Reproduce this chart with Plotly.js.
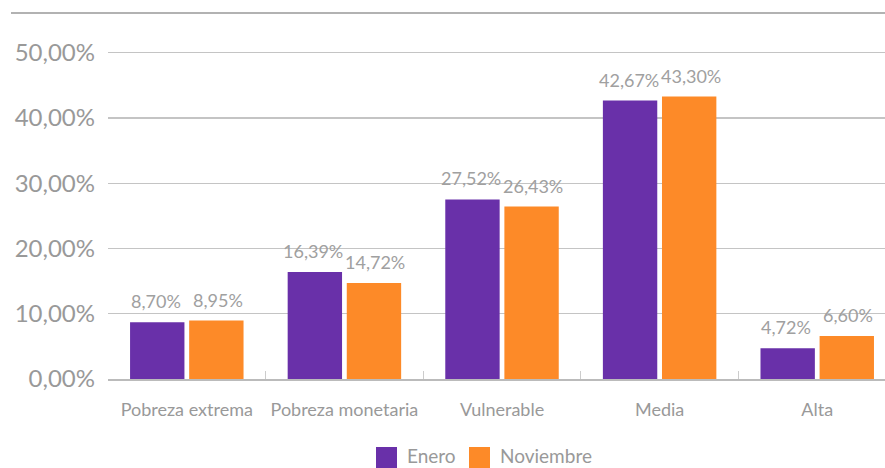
<!DOCTYPE html>
<html><head><meta charset="utf-8">
<script src="https://cdn.plot.ly/plotly-3.0.1.min.js"></script>
<style>body{margin:0;background:#fff}#c{width:885px;height:468px}</style>
</head><body><div id="c"></div>
<script>
const categories = ["Pobreza extrema","Pobreza monetaria","Vulnerable","Media","Alta"];
const enero = [8.70, 16.39, 27.52, 42.67, 4.72];
const noviembre = [8.95, 14.72, 26.43, 43.30, 6.60];
const seriesNames = ["Enero","Noviembre"];
const seriesColors = ["#6930A9","#FD8A28"];
const yTickVals = [0, 10, 20, 30, 40, 50];
const yTickText = ["0,00%","10,00%","20,00%","30,00%","40,00%","50,00%"];

const FF = "Lato, 'Open Sans', sans-serif";
const fmt = v => v.toFixed(2).replace(".", ",") + "%";
const mk = (name, y, color) => ({
  type:"bar", name:name, x:categories, y:y,
  marker:{color:color}, hoverinfo:"none"
});
const data = [mk(seriesNames[0], enero, seriesColors[0]), mk(seriesNames[1], noviembre, seriesColors[1])];
const annotations = [];
[[enero,-31],[noviembre,31]].forEach(([arr, dx]) => {
  arr.forEach((v, i) => annotations.push({
    x:categories[i], y:v, xref:"x", yref:"y", text:fmt(v), showarrow:false,
    xshift:dx, yshift:8, yanchor:"bottom",
    font:{family:FF, size:18, color:"#a0a0a0"}
  }));
});
// custom legend (plot area: left 108, width 777, top 13, height 366)
const px = x => (x - 108) / 777, py = y => (379 - y) / 366;
const shapes = [{type:"line", xref:"paper", yref:"paper", x0:px(11), x1:1, y0:1, y1:1,
                 line:{color:"#999", width:1.5}}];
const legendX = [376, 469];
seriesNames.forEach((n, i) => {
  shapes.push({type:"rect", xref:"paper", yref:"paper", x0:px(legendX[i]), x1:px(legendX[i]+21),
               y0:py(468), y1:py(447), fillcolor:seriesColors[i], line:{width:0}});
  annotations.push({xref:"paper", yref:"paper", x:px(legendX[i]+29), y:py(455), xanchor:"left",
                    yanchor:"middle", showarrow:false, text:n,
                    font:{family:FF, size:19, color:"#999"}});
});
const layout = {
  width:885, height:468,
  margin:{l:108, r:0, t:13, b:89, autoexpand:false},
  paper_bgcolor:"#fff", plot_bgcolor:"#fff",
  font:{family:FF, color:"#999"},
  barmode:"group", bargap:0.25, bargroupgap:0.08,
  showlegend:false,
  xaxis:{type:"category", range:[-0.5, 4.43], showgrid:false, showline:true, linecolor:"#bbb",
         linewidth:1.5, ticks:"inside", tickson:"boundaries", ticklen:8, tickcolor:"#ccc",
         ticklabelstandoff:14,
         tickfont:{family:FF, size:18, color:"#999"}, fixedrange:true},
  yaxis:{range:[0, 56.1], tickvals:yTickVals, ticktext:yTickText,
         showgrid:true, gridcolor:"#c4c4c4", gridwidth:1.2, zeroline:false, showline:false,
         ticks:"", ticklabelstandoff:12,
         tickfont:{family:FF, size:24, color:"#999"}, fixedrange:true},
  annotations:annotations,
  shapes:shapes
};
Plotly.newPlot("c", data, layout, {displayModeBar:false, staticPlot:true});
</script></body></html>
